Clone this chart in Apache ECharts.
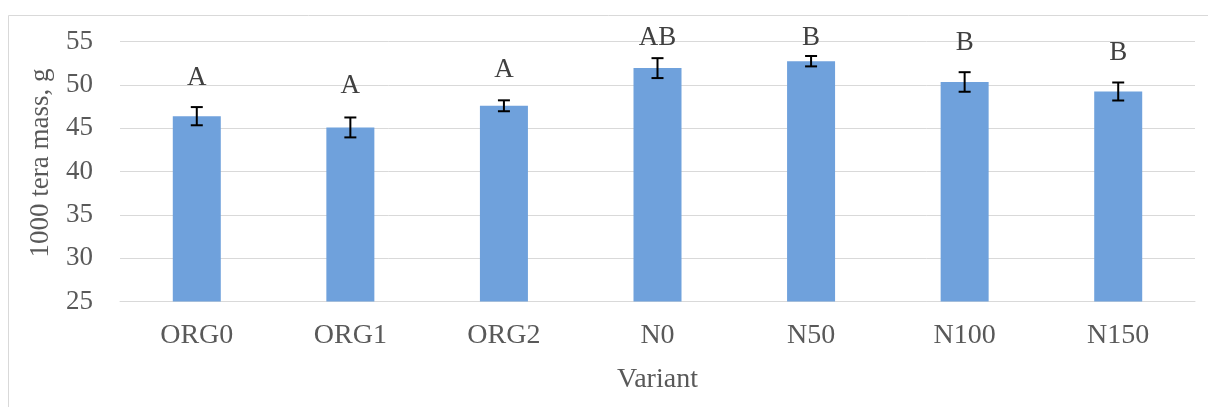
<!DOCTYPE html>
<html>
<head>
<meta charset="utf-8">
<script src="https://cdn.jsdelivr.net/npm/echarts@6/dist/echarts.min.js"></script>
<style>
html,body{margin:0;padding:0;background:#fff;}
#chart{width:1208px;height:407px;}
</style>
</head>
<body>
<div id="chart"></div>
<script>
var categories = ['ORG0', 'ORG1', 'ORG2', 'N0', 'N50', 'N100', 'N150'];
var means = [46.4, 45.1, 47.6, 51.95, 52.75, 50.35, 49.25];
var errors = [1.05, 1.15, 0.63, 1.15, 0.6, 1.13, 1.04];
var letters = ['A', 'A', 'A', 'AB', 'B', 'B', 'B'];
var letterY = [50.8, 49.85, 51.8, 55.45, 55.45, 54.85, 53.7];
var yTicks = {min: 25, max: 55, interval: 5};
var xName = 'Variant';
var yName = '1000 tera mass, g';

var FONT = '"Liberation Serif", "DejaVu Serif", serif';
var chart = echarts.init(document.getElementById('chart'), null, {renderer: 'canvas'});

var errData = categories.map(function (c, i) { return [i, means[i] - errors[i], means[i] + errors[i]]; });
var letterData = categories.map(function (c, i) { return [i, letterY[i], letters[i]]; });

var option = {
  animation: false,
  backgroundColor: '#ffffff',
  graphic: [{
    type: 'rect', silent: true, z: -10,
    shape: {x: 8.5, y: 15.5, width: 1400, height: 600},
    style: {fill: 'none', stroke: '#d9d9d9', lineWidth: 1}
  }, {
    type: 'text', silent: true,
    x: 41, y: 163, rotation: Math.PI / 2,
    style: {
      text: yName, fontFamily: FONT, fontSize: 27, fill: '#595959',
      align: 'center', verticalAlign: 'middle'
    }
  }],
  grid: {left: 120, right: 13, top: 41.7, bottom: 105.5},
  xAxis: {
    type: 'category',
    data: categories,
    name: xName,
    nameLocation: 'middle',
    nameGap: 64,
    nameTextStyle: {fontFamily: FONT, fontSize: 28, color: '#595959'},
    axisLine: {lineStyle: {color: '#d9d9d9', width: 1}},
    axisTick: {show: false},
    axisLabel: {fontFamily: FONT, fontSize: 28, color: '#595959', margin: 20}
  },
  yAxis: {
    type: 'value',
    min: yTicks.min, max: yTicks.max, interval: yTicks.interval,
    axisLine: {show: false},
    axisTick: {show: false},
    splitLine: {lineStyle: {color: '#d9d9d9', width: 1}},
    axisLabel: {fontFamily: FONT, fontSize: 27, color: '#595959', margin: 27}
  },
  series: [
    {
      type: 'bar',
      data: means,
      barWidth: 48,
      itemStyle: {color: '#6fa1dc'},
      z: 2
    },
    {
      type: 'custom',
      data: errData,
      z: 5,
      renderItem: function (params, api) {
        var x = api.value(0);
        var lo = api.coord([x, api.value(1)]);
        var hi = api.coord([x, api.value(2)]);
        var hw = 6;
        var st = {stroke: '#000000', lineWidth: 2};
        return {
          type: 'group',
          children: [
            {type: 'line', shape: {x1: lo[0], y1: lo[1], x2: hi[0], y2: hi[1]}, style: st},
            {type: 'line', shape: {x1: lo[0] - hw, y1: lo[1], x2: lo[0] + hw, y2: lo[1]}, style: st},
            {type: 'line', shape: {x1: hi[0] - hw, y1: hi[1], x2: hi[0] + hw, y2: hi[1]}, style: st}
          ]
        };
      }
    },
    {
      type: 'custom',
      data: letterData,
      z: 6,
      clip: false,
      renderItem: function (params, api) {
        var p = api.coord([api.value(0), api.value(1)]);
        return {
          type: 'text',
          x: p[0], y: p[1],
          style: {
            text: letters[params.dataIndex],
            fontFamily: FONT, fontSize: 27, fill: '#404040',
            align: 'center', verticalAlign: 'middle'
          }
        };
      }
    }
  ]
};
chart.setOption(option);
</script>
</body>
</html>
